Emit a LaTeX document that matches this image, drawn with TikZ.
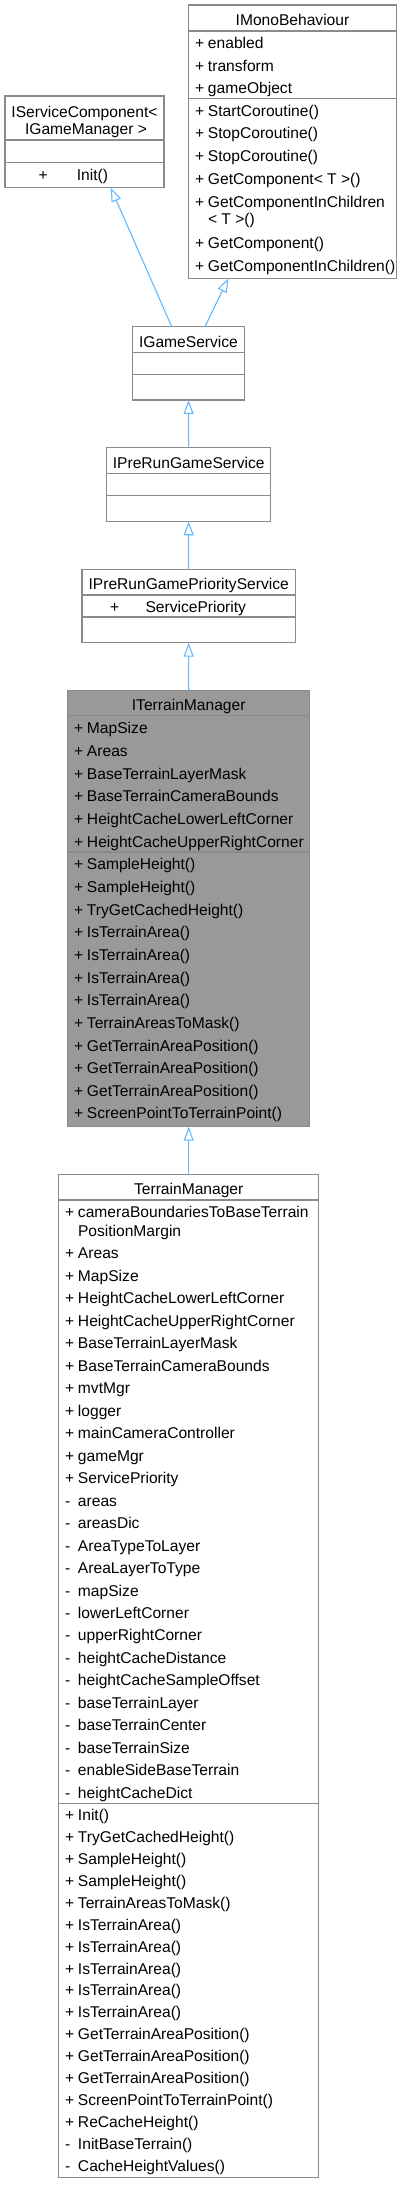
\documentclass[tikz,border=0pt]{standalone}
\usepackage{fontspec}
\setmainfont{Liberation Sans}
\usetikzlibrary{arrows.meta}

\definecolor{boxgray}{HTML}{8A8A8A}
\definecolor{arrowblue}{HTML}{63B8FF}
\definecolor{ifill}{HTML}{999999}

\newcommand{\mbr}[2]{\makebox[12.8pt][l]{#1}#2}

\begin{document}
\begin{tikzpicture}[x=1pt,y=-1pt,
  classbox/.style={draw=boxgray,line width=1.2pt,anchor=north west,inner sep=0pt,outer sep=0pt},
  divider/.style={draw=boxgray,line width=1.2pt},
  member/.style={anchor=base west,inner sep=0pt,font=\fontsize{15.6}{18}\selectfont},
  ctitle/.style={anchor=base,inner sep=0pt,font=\fontsize{15.6}{18}\selectfont},
  inherit/.style={draw=arrowblue,line width=1.1pt,-{Triangle[open,length=14pt,width=10pt]}}]

  \useasboundingbox (0,0) rectangle (402,2201);

  % IMonoBehaviour
  \node[classbox, minimum width=208.4pt, minimum height=273.3pt] (mono) at (188.3,5) {};
  \draw[divider] (mono.west |- 0,31) -- (mono.east |- 0,31);
  \draw[divider] (mono.west |- 0,98.7) -- (mono.east |- 0,98.7);
  \node[ctitle] (mono-t) at (292.5,25.6) {IMonoBehaviour};
  \foreach \t [count=\i from 0] in {enabled, transform, gameObject}
    \node[member] (mono-a\i) at (195,48.9+22.5*\i) {\mbr{+}{\t}};
  \foreach \y/\t [count=\i] in {111/StartCoroutine(), 133.3/StopCoroutine(), 156/StopCoroutine(),
      179.3/GetComponent< T >(), 243.3/GetComponent(), 265.7/GetComponentInChildren()}
    \node[member] (mono-m\i) at (195,\y+5.6) {\mbr{+}{\t}};
  \node[member] (mono-w1) at (195,207.3) {\mbr{+}{GetComponentInChildren}};
  \node[member] (mono-w2) at (195,224.9) {\mbr{}{< T >()}};

  % IServiceComponent< IGameManager >
  \node[classbox, minimum width=159pt, minimum height=91.7pt] (svc) at (5,96) {};
  \draw[divider] (svc.west |- 0,140) -- (svc.east |- 0,140);
  \draw[divider] (svc.west |- 0,162.7) -- (svc.east |- 0,162.7);
  \node[ctitle] (svc-t1) at (84.5,117.3) {IServiceComponent<};
  \node[ctitle] (svc-t2) at (86,134.9) {IGameManager >};
  \node[member] (svc-s) at (38.3,180.6) {+};
  \node[member] (svc-m1) at (76.7,180.6) {Init()};

  % IGameService
  \node[classbox, minimum width=111.6pt, minimum height=73.3pt] (gs) at (132.7,326.7) {};
  \draw[divider] (gs.west |- 0,352.3) -- (gs.east |- 0,352.3);
  \draw[divider] (gs.west |- 0,374.3) -- (gs.east |- 0,374.3);
  \node[ctitle] (gs-t) at (188.5,347.2) {IGameService};

  % IPreRunGameService
  \node[classbox, minimum width=164pt, minimum height=73.6pt] (pre) at (106.7,447.7) {};
  \draw[divider] (pre.west |- 0,473.7) -- (pre.east |- 0,473.7);
  \draw[divider] (pre.west |- 0,495.7) -- (pre.east |- 0,495.7);
  \node[ctitle] (pre-t) at (188.7,468.9) {IPreRunGameService};

  % IPreRunGamePriorityService
  \node[classbox, minimum width=213.3pt, minimum height=73.4pt] (prio) at (82,569.3) {};
  \draw[divider] (prio.west |- 0,595) -- (prio.east |- 0,595);
  \draw[divider] (prio.west |- 0,617) -- (prio.east |- 0,617);
  \node[ctitle] (prio-t) at (188.7,589.9) {IPreRunGamePriorityService};
  \node[member] (prio-s) at (110,612.9) {+};
  \node[member] (prio-a1) at (145.3,612.9) {ServicePriority};

  % ITerrainManager
  \node[classbox, fill=ifill, minimum width=242pt, minimum height=436.4pt] (itm) at (67.7,690.3) {};
  \draw[divider] (itm.west |- 0,715.7) -- (itm.east |- 0,715.7);
  \draw[divider] (itm.west |- 0,852) -- (itm.east |- 0,852);
  \node[ctitle] (itm-t) at (188.7,710.6) {ITerrainManager};
  \foreach \t [count=\i from 0] in {MapSize, Areas, BaseTerrainLayerMask, BaseTerrainCameraBounds,
      HeightCacheLowerLeftCorner, HeightCacheUpperRightCorner}
    \node[member] (itm-a\i) at (74,733.9+22.68*\i) {\mbr{+}{\t}};
  \foreach \t [count=\i from 0] in {SampleHeight(), SampleHeight(), TryGetCachedHeight(),
      IsTerrainArea(), IsTerrainArea(), IsTerrainArea(), IsTerrainArea(), TerrainAreasToMask(),
      GetTerrainAreaPosition(), GetTerrainAreaPosition(), GetTerrainAreaPosition(),
      ScreenPointToTerrainPoint()}
    \node[member] (itm-m\i) at (74,869.9+22.64*\i) {\mbr{+}{\t}};

  % TerrainManager
  \node[classbox, minimum width=260pt, minimum height=1003.4pt] (tm) at (58.7,1174.3) {};
  \draw[divider] (tm.west |- 0,1200) -- (tm.east |- 0,1200);
  \draw[divider] (tm.west |- 0,1803.3) -- (tm.east |- 0,1803.3);
  \node[ctitle] (tm-t) at (188.7,1194.9) {TerrainManager};
  \node[member] (tm-w1) at (65,1217.9) {\mbr{+}{cameraBoundariesToBaseTerrain}};
  \node[member] (tm-w2) at (65,1236.3) {\mbr{}{PositionMargin}};
  \foreach \s/\t [count=\i from 0] in {+/Areas, +/MapSize, +/HeightCacheLowerLeftCorner,
      +/HeightCacheUpperRightCorner, +/BaseTerrainLayerMask, +/BaseTerrainCameraBounds,
      +/mvtMgr, +/logger, +/mainCameraController, +/gameMgr, +/ServicePriority,
      -/areas, -/areasDic, -/AreaTypeToLayer, -/AreaLayerToType, -/mapSize,
      -/lowerLeftCorner, -/upperRightCorner, -/heightCacheDistance,
      -/heightCacheSampleOffset, -/baseTerrainLayer, -/baseTerrainCenter,
      -/baseTerrainSize, -/enableSideBaseTerrain, -/heightCacheDict}
    \node[member] (tm-a\i) at (65,1258.9+22.475*\i) {\mbr{\s}{\t}};
  \foreach \s/\t [count=\i from 0] in {+/Init(), +/TryGetCachedHeight(), +/SampleHeight(),
      +/SampleHeight(), +/TerrainAreasToMask(), +/IsTerrainArea(), +/IsTerrainArea(),
      +/IsTerrainArea(), +/IsTerrainArea(), +/IsTerrainArea(), +/GetTerrainAreaPosition(),
      +/GetTerrainAreaPosition(), +/GetTerrainAreaPosition(), +/ScreenPointToTerrainPoint(),
      +/ReCacheHeight(), -/InitBaseTerrain(), -/CacheHeightValues()}
    \node[member] (tm-m\i) at (65,1820.6+21.92*\i) {\mbr{\s}{\t}};

  % inheritance
  \draw[inherit] (171.7,0 |- gs.north) -- (110.7,0 |- svc.south);
  \draw[inherit] (205,0 |- gs.north) -- (228.3,0 |- mono.south);
  \draw[inherit] (pre.north) -- (gs.south);
  \draw[inherit] (prio.north) -- (pre.south);
  \draw[inherit] (itm.north) -- (prio.south);
  \draw[inherit] (tm.north) -- (itm.south);
\end{tikzpicture}
\end{document}
